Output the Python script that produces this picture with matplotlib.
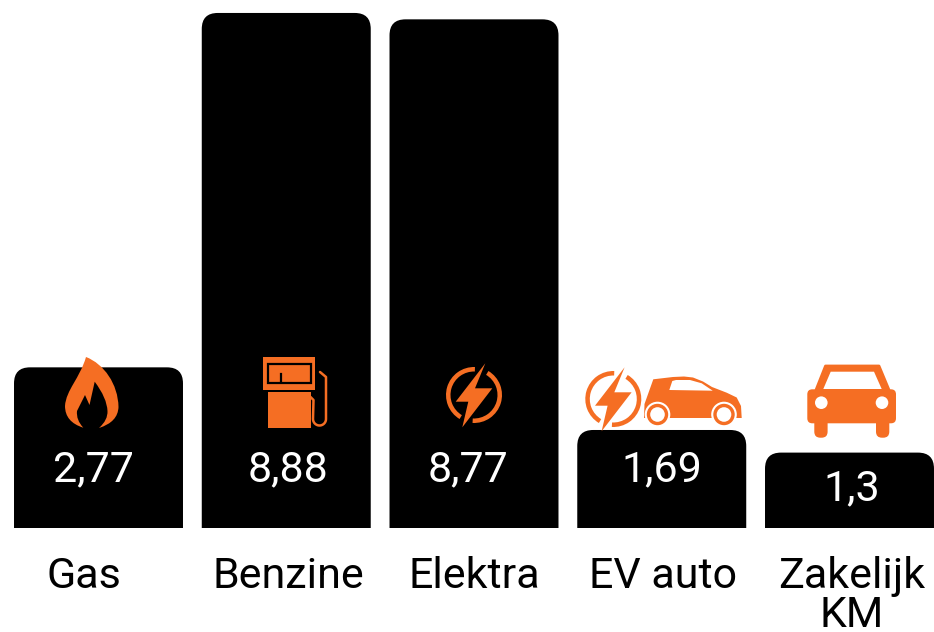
from matplotlib import pyplot as plt
from matplotlib.patches import Circle, FancyBboxPatch, PathPatch, Polygon, Rectangle, Wedge
from matplotlib.path import Path
import numpy as np

plt.rcParams["font.family"] = ["Roboto", "DejaVu Sans"]

categories = ["Gas", "Benzine", "Elektra", "EV auto", "Zakelijk\nKM"]
values = [2.77, 8.88, 8.77, 1.69, 1.3]
value_labels = ["2,77", "8,88", "8,77", "1,69", "1,3"]

ORANGE = "#f56e23"
BAR_W = 0.9
RADIUS_X = 16 / 187.75
RADIUS_Y = 16 / 58

# tekstposities in pixels, staan in het origineel niet precies op het midden
value_pos = [(93, 467), (288, 467), (468, 467), (662, 467), (852, 486)]
label_x = [84, 288, 474, 663, 852]


def rounded_bar(x, h):
    # bar met ronde hoeken aan de bovenkant
    l, r = x - BAR_W / 2, x + BAR_W / 2
    verts = [
        (l, 0),
        (l, h - RADIUS_Y),
        (l, h),
        (l + RADIUS_X, h),
        (r - RADIUS_X, h),
        (r, h),
        (r, h - RADIUS_Y),
        (r, 0),
        (l, 0),
    ]
    codes = [
        Path.MOVETO,
        Path.LINETO,
        Path.CURVE3,
        Path.CURVE3,
        Path.LINETO,
        Path.CURVE3,
        Path.CURVE3,
        Path.LINETO,
        Path.CLOSEPOLY,
    ]
    return PathPatch(Path(verts, codes), fc="black", ec="none")


fig = plt.figure(figsize=(9.34, 6.32), dpi=100)
ax = fig.add_axes([0, 0, 1, 1])
ax.set_xlim(-98.5 / 187.75, (934 - 98.5) / 187.75)
ax.set_ylim(-(632 - 528) / 58, 528 / 58)
ax.axis("off")

for i, val in enumerate(values):
    ax.add_patch(rounded_bar(i, val))

# iconen en teksten in pixelcoordinaten
icons = fig.add_axes([0, 0, 1, 1])
icons.set_xlim(0, 934)
icons.set_ylim(632, 0)
icons.axis("off")

for (x, y), lab in zip(value_pos, value_labels):
    icons.text(x, y + 3, lab, color="white", fontsize=31,
               ha="center", va="center", zorder=5)
for x, cat in zip(label_x, categories):
    icons.text(x, 556, cat, color="black", fontsize=31, ha="center", va="top",
               linespacing=0.95)


def flame(ax):
    verts = [
        (86, 357),
        (104, 364), (118, 384), (118.5, 407),
        (118, 422), (99, 428),
        (108, 420), (107.5, 411),
        (107, 398), (94.7, 381.7),
        (89.5, 405),
        (85, 395),
        (77, 411),
        (76, 420), (83.3, 427.7),
        (65, 422), (65, 406),
        (66, 390), (80, 378),
        (86, 357),
    ]
    codes = [Path.MOVETO] + [Path.CURVE4] * 3 + [Path.CURVE3] * 2 + [Path.CURVE3] * 4 \
        + [Path.LINETO] * 3 + [Path.CURVE3] * 4 + [Path.CURVE4] * 3
    ax.add_patch(PathPatch(Path(verts, codes), fc=ORANGE, ec="none"))


def pump(ax):
    ax.add_patch(Rectangle((263.3, 357.3), 51.7, 32.7, fc=ORANGE, ec="none"))
    ax.add_patch(Rectangle((268, 391.7), 42.7, 36, fc=ORANGE, ec="none"))
    ax.add_patch(Rectangle((268.3, 364), 42.4, 19.3, fc="none", ec="black", lw=1.6))
    ax.plot([281, 281], [374, 382], color="black", lw=1.6)
    t = np.linspace(np.pi, 0, 20)
    hx = [310.5, 313.5] + list(319.5 + 6.5 * np.cos(t)) + [326, 326, 320]
    hy = [397, 400] + list(419 + 6.5 * np.sin(t)) + [377, 377, 372]
    ax.plot(hx, hy, color=ORANGE, lw=1.8, solid_capstyle="round")


def bolt(ax, dx, dy):
    cx, cy = 474 + dx, 395 + dy
    ax.add_patch(Wedge((cx, cy), 28, 121, 272, width=4.5, fc=ORANGE, ec="none"))
    ax.add_patch(Wedge((cx, cy), 28, -59, 93, width=4.5, fc=ORANGE, ec="none"))
    pts = [(485.3, 363.3), (475, 388.3), (492.3, 388.3), (462.3, 427.3),
           (468.3, 401.7), (455.7, 401.7)]
    ax.add_patch(Polygon([(x + dx, y + dy) for x, y in pts], fc=ORANGE,
                         ec="none", zorder=3))


def car_side(ax):
    verts = [(644, 418), (644.5, 404), (653.3, 379.3), (673, 377), (684, 376.5),
             (693, 377.5), (703, 381.5), (712, 387), (726.7, 392.7), (736.7, 397.5),
             (741, 406), (741.7, 418)]
    ax.add_patch(Polygon(verts, fc=ORANGE, ec="none", closed=True))
    ax.add_patch(Polygon([(669.3, 390), (672.3, 381), (676, 380), (690, 380),
                          (701.7, 383.3), (712.7, 390.7)], fc="white", ec="none"))
    for cx in (657.5, 724):
        ax.add_patch(Circle((cx, 414.5), 12.8, fc="white", ec="none"))
        ax.add_patch(Circle((cx, 414.5), 10.7, fc=ORANGE, ec="none"))
        ax.add_patch(Circle((cx, 414.5), 7.3, fc="white", ec="none"))


def car_front(ax):
    ax.add_patch(Polygon([(816, 390), (825.5, 366), (879, 366), (889, 390)],
                         fc=ORANGE, ec=ORANGE, lw=2, joinstyle="round"))
    ax.add_patch(Polygon([(823.3, 389), (830.7, 371.7), (874, 371.7), (881.7, 389)],
                         fc="white", ec="none"))
    ax.add_patch(FancyBboxPatch((807.3, 389.3), 88.7, 34, boxstyle="round,pad=0,rounding_size=5",
                                fc=ORANGE, ec="none"))
    for x in (814.3, 876):
        ax.add_patch(FancyBboxPatch((x, 415), 13.3, 22.7, boxstyle="round,pad=0,rounding_size=6",
                                    fc=ORANGE, ec="none"))
    for x in (821.3, 882):
        ax.add_patch(Circle((x, 402.7), 6.3, fc="white", ec="none"))


flame(icons)
pump(icons)
bolt(icons, 0, 0)
bolt(icons, 139.3, 4)
car_side(icons)
car_front(icons)

plt.savefig("out.png", dpi=100)
plt.close()
